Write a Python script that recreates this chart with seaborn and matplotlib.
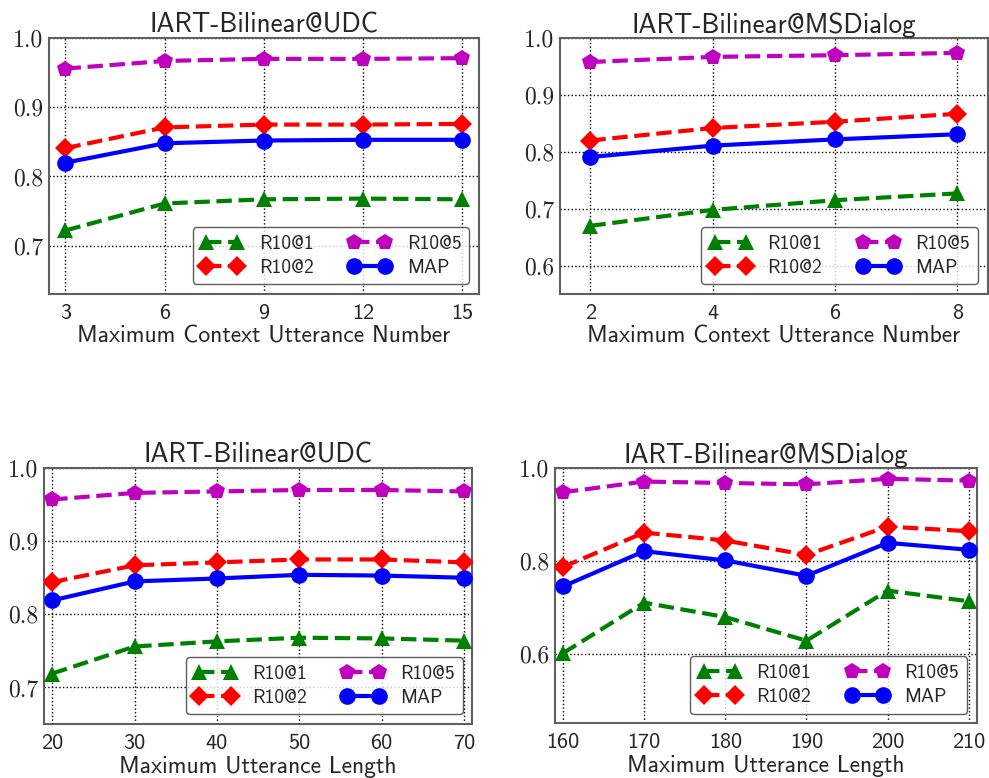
import matplotlib
matplotlib.use("Agg")
import matplotlib.pyplot as plt
import seaborn as sns

# --- data ---
ctx_udc = [3, 6, 9, 12, 15]
ctx_udc_r1 = [0.722, 0.761, 0.767, 0.768, 0.767]
ctx_udc_r2 = [0.841, 0.871, 0.875, 0.875, 0.876]
ctx_udc_r5 = [0.956, 0.967, 0.970, 0.970, 0.971]
ctx_udc_map = [0.820, 0.848, 0.852, 0.853, 0.853]

ctx_msd = [2, 4, 6, 8]
ctx_msd_r1 = [0.670, 0.698, 0.715, 0.727]
ctx_msd_r2 = [0.820, 0.842, 0.853, 0.867]
ctx_msd_r5 = [0.958, 0.967, 0.970, 0.974]
ctx_msd_map = [0.791, 0.811, 0.822, 0.831]

len_udc = [20, 30, 40, 50, 60, 70]
len_udc_r1 = [0.719, 0.756, 0.763, 0.768, 0.767, 0.764]
len_udc_r2 = [0.844, 0.867, 0.871, 0.875, 0.875, 0.871]
len_udc_r5 = [0.957, 0.966, 0.968, 0.970, 0.970, 0.968]
len_udc_map = [0.819, 0.845, 0.849, 0.854, 0.853, 0.850]

len_msd = [160, 170, 180, 190, 200, 210]
len_msd_r1 = [0.601, 0.710, 0.679, 0.628, 0.736, 0.713]
len_msd_r2 = [0.787, 0.861, 0.844, 0.813, 0.874, 0.864]
len_msd_r5 = [0.948, 0.971, 0.968, 0.965, 0.977, 0.973]
len_msd_map = [0.745, 0.821, 0.801, 0.768, 0.839, 0.824]

sns.set_style("white")
plt.rcParams["axes.formatter.use_mathtext"] = True

SANS = "cmss10"
SERIF = "cmr10"

fig = plt.figure(figsize=(9.89, 7.78), dpi=100)

panels = [
    ([0.0495, 0.622, 0.4348, 0.329], "IART-Bilinear@UDC", "Maximum Context Utterance Number",
     ctx_udc, [ctx_udc_r1, ctx_udc_r2, ctx_udc_r5, ctx_udc_map], (2.5, 15.5), (0.63, 1.0),
     [0.7, 0.8, 0.9, 1.0]),
    ([0.566, 0.622, 0.4328, 0.329], "IART-Bilinear@MSDialog", "Maximum Context Utterance Number",
     ctx_msd, [ctx_msd_r1, ctx_msd_r2, ctx_msd_r5, ctx_msd_map], (1.5, 8.5), (0.55, 1.0),
     [0.6, 0.7, 0.8, 0.9, 1.0]),
    ([0.0445, 0.0694, 0.433, 0.329], "IART-Bilinear@UDC", "Maximum Utterance Length",
     len_udc, [len_udc_r1, len_udc_r2, len_udc_r5, len_udc_map], (19, 71), (0.65, 1.0),
     [0.7, 0.8, 0.9, 1.0]),
    ([0.561, 0.0703, 0.4267, 0.328], "IART-Bilinear@MSDialog", "Maximum Utterance Length",
     len_msd, [len_msd_r1, len_msd_r2, len_msd_r5, len_msd_map], (159, 211), (0.45, 1.0),
     [0.6, 0.8, 1.0]),
]

names = ["R10@1", "R10@2", "R10@5", "MAP"]
colors = ["green", "red", "m", "blue"]
markers = ["^", "D", "p", "o"]
styles = ["--", "--", "--", "-"]
msizes = [11, 10, 12, 12]

for rect, title, xlabel, xs, series, xlim, ylim, yticks in panels:
    ax = fig.add_axes(rect)
    for vals, name, c, m, ls, ms in zip(series, names, colors, markers, styles, msizes):
        sns.lineplot(x=xs, y=vals, ax=ax, color=c, marker=m, linestyle=ls, linewidth=3,
                     markersize=ms, markeredgewidth=0, label=name, zorder=3)
    ax.set_xlim(*xlim)
    ax.set_ylim(*ylim)
    ax.set_xticks(xs)
    ax.set_yticks(yticks)
    ax.set_xticklabels([str(v) for v in xs], family=SANS, fontsize=16)
    ax.set_yticklabels([f"{v:.1f}" for v in yticks], family=SERIF, fontsize=17)
    ax.grid(True, linestyle=":", color="black", linewidth=1)
    ax.set_axisbelow(True)
    for sp in ax.spines.values():
        sp.set_color("#606060")
        sp.set_linewidth(1.5)
    ax.tick_params(axis="x", length=4, width=1, color="black", pad=3)
    ax.tick_params(axis="y", length=0, pad=4)
    ax.set_title(title, family=SANS, fontsize=19.5, pad=4)
    ax.set_xlabel(xlabel, family=SANS, fontsize=17, labelpad=2)
    ax.set_ylabel("")
    leg = ax.legend(loc="lower right", ncol=2, numpoints=2, prop={"family": SANS, "size": 14},
                    frameon=True, fancybox=True, edgecolor="0.2", framealpha=0.8,
                    handlelength=2.2, columnspacing=1.8, borderpad=0.4, labelspacing=0.3)
    leg.get_frame().set_linewidth(1.0)

fig.savefig("out.png", dpi=100)
